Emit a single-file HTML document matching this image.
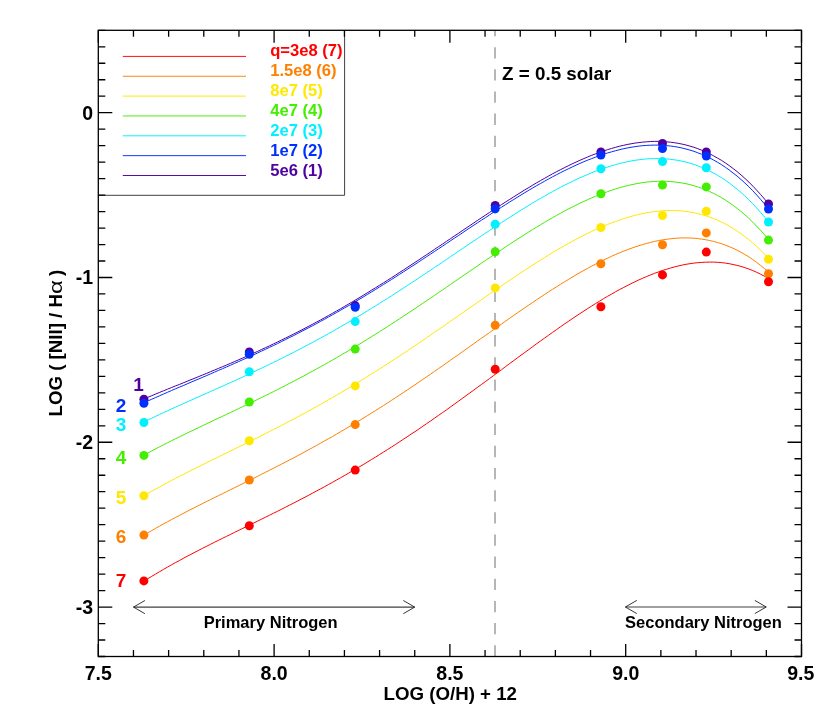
<!DOCTYPE html>
<html><head><meta charset="utf-8"><title>LOG([NII]/Ha) vs LOG(O/H)+12</title>
<style>
html,body{margin:0;padding:0;background:#fff;}
svg{display:block;will-change:transform;}
text{font-family:"Liberation Sans",sans-serif;font-weight:bold;}
</style></head><body>
<svg width="830" height="719" viewBox="0 0 830 719">
<rect x="0" y="0" width="830" height="719" fill="#ffffff"/>
<line x1="495" y1="656.5" x2="495" y2="30.3" stroke="#909090" stroke-width="1.3" stroke-dasharray="11.3 10.85"/>
<path d="M143.9,398.9 L147.8,397.3 L151.8,395.7 L155.7,394.0 L159.6,392.4 L163.5,390.8 L167.5,389.2 L171.4,387.6 L175.3,386.0 L179.3,384.5 L183.2,382.9 L187.1,381.3 L191.0,379.7 L195.0,378.1 L198.9,376.5 L202.8,374.9 L206.8,373.3 L210.7,371.6 L214.6,370.0 L218.5,368.4 L222.5,366.7 L226.4,365.1 L230.3,363.4 L234.3,361.7 L238.2,360.0 L242.1,358.3 L246.0,356.6 L250.0,354.8 L253.9,353.0 L257.8,351.3 L261.7,349.4 L265.7,347.6 L269.6,345.8 L273.5,343.9 L277.5,342.0 L281.4,340.1 L285.3,338.2 L289.2,336.3 L293.2,334.3 L297.1,332.3 L301.0,330.3 L305.0,328.2 L308.9,326.2 L312.8,324.1 L316.7,322.0 L320.7,319.9 L324.6,317.7 L328.5,315.5 L332.5,313.3 L336.4,311.1 L340.3,308.9 L344.2,306.6 L348.2,304.3 L352.1,302.0 L356.0,299.7 L360.0,297.3 L363.9,294.9 L367.8,292.5 L371.7,290.1 L375.7,287.7 L379.6,285.2 L383.5,282.8 L387.5,280.3 L391.4,277.8 L395.3,275.3 L399.2,272.7 L403.2,270.2 L407.1,267.6 L411.0,265.0 L415.0,262.4 L418.9,259.8 L422.8,257.2 L426.7,254.6 L430.7,252.0 L434.6,249.3 L438.5,246.7 L442.5,244.1 L446.4,241.4 L450.3,238.8 L454.2,236.1 L458.2,233.5 L462.1,230.8 L466.0,228.2 L469.9,225.5 L473.9,222.9 L477.8,220.2 L481.7,217.6 L485.7,215.0 L489.6,212.4 L493.5,209.8 L497.4,207.3 L501.4,204.7 L505.3,202.2 L509.2,199.7 L513.2,197.2 L517.1,194.7 L521.0,192.3 L524.9,189.8 L528.9,187.5 L532.8,185.1 L536.7,182.8 L540.7,180.5 L544.6,178.3 L548.5,176.1 L552.4,173.9 L556.4,171.8 L560.3,169.8 L564.2,167.8 L568.2,165.8 L572.1,163.9 L576.0,162.1 L579.9,160.3 L583.9,158.6 L587.8,156.9 L591.7,155.3 L595.7,153.8 L599.6,152.4 L603.5,151.0 L607.4,149.7 L611.4,148.5 L615.3,147.4 L619.2,146.3 L623.2,145.4 L627.1,144.5 L631.0,143.8 L634.9,143.1 L638.9,142.6 L642.8,142.1 L646.7,141.8 L650.7,141.5 L654.6,141.4 L658.5,141.4 L662.4,141.5 L666.4,141.8 L670.3,142.2 L674.2,142.7 L678.1,143.3 L682.1,144.1 L686.0,145.0 L689.9,146.1 L693.9,147.3 L697.8,148.7 L701.7,150.2 L705.6,151.9 L709.6,153.7 L713.5,155.8 L717.4,158.0 L721.4,160.3 L725.3,162.9 L729.2,165.6 L733.1,168.5 L737.1,171.6 L741.0,174.9 L744.9,178.4 L748.9,182.1 L752.8,186.1 L756.7,190.2 L760.6,194.5 L764.6,199.1 L768.5,203.9" fill="none" stroke="#5000a0" stroke-width="1"/>
<path d="M143.9,402.8 L147.8,401.0 L151.8,399.2 L155.7,397.5 L159.6,395.8 L163.5,394.0 L167.5,392.3 L171.4,390.6 L175.3,388.9 L179.3,387.2 L183.2,385.6 L187.1,383.9 L191.0,382.2 L195.0,380.5 L198.9,378.9 L202.8,377.2 L206.8,375.5 L210.7,373.8 L214.6,372.1 L218.5,370.4 L222.5,368.7 L226.4,367.0 L230.3,365.3 L234.3,363.5 L238.2,361.8 L242.1,360.0 L246.0,358.3 L250.0,356.5 L253.9,354.7 L257.8,352.9 L261.7,351.0 L265.7,349.2 L269.6,347.3 L273.5,345.5 L277.5,343.6 L281.4,341.6 L285.3,339.7 L289.2,337.7 L293.2,335.8 L297.1,333.8 L301.0,331.7 L305.0,329.7 L308.9,327.6 L312.8,325.6 L316.7,323.5 L320.7,321.3 L324.6,319.2 L328.5,317.0 L332.5,314.8 L336.4,312.6 L340.3,310.4 L344.2,308.1 L348.2,305.9 L352.1,303.6 L356.0,301.2 L360.0,298.9 L363.9,296.6 L367.8,294.2 L371.7,291.8 L375.7,289.4 L379.6,286.9 L383.5,284.5 L387.5,282.0 L391.4,279.6 L395.3,277.1 L399.2,274.5 L403.2,272.0 L407.1,269.5 L411.0,266.9 L415.0,264.4 L418.9,261.8 L422.8,259.2 L426.7,256.6 L430.7,254.0 L434.6,251.4 L438.5,248.8 L442.5,246.2 L446.4,243.6 L450.3,240.9 L454.2,238.3 L458.2,235.7 L462.1,233.1 L466.0,230.4 L469.9,227.8 L473.9,225.2 L477.8,222.6 L481.7,220.0 L485.7,217.5 L489.6,214.9 L493.5,212.3 L497.4,209.8 L501.4,207.3 L505.3,204.8 L509.2,202.3 L513.2,199.8 L517.1,197.4 L521.0,195.0 L524.9,192.6 L528.9,190.2 L532.8,187.9 L536.7,185.6 L540.7,183.4 L544.6,181.2 L548.5,179.0 L552.4,176.9 L556.4,174.8 L560.3,172.8 L564.2,170.8 L568.2,168.9 L572.1,167.0 L576.0,165.2 L579.9,163.4 L583.9,161.7 L587.8,160.1 L591.7,158.6 L595.7,157.1 L599.6,155.6 L603.5,154.3 L607.4,153.0 L611.4,151.9 L615.3,150.8 L619.2,149.8 L623.2,148.8 L627.1,148.0 L631.0,147.3 L634.9,146.7 L638.9,146.1 L642.8,145.7 L646.7,145.4 L650.7,145.2 L654.6,145.1 L658.5,145.1 L662.4,145.3 L666.4,145.6 L670.3,146.0 L674.2,146.5 L678.1,147.2 L682.1,148.0 L686.0,149.0 L689.9,150.1 L693.9,151.3 L697.8,152.8 L701.7,154.3 L705.6,156.0 L709.6,157.9 L713.5,160.0 L717.4,162.2 L721.4,164.6 L725.3,167.2 L729.2,170.0 L733.1,173.0 L737.1,176.1 L741.0,179.5 L744.9,183.0 L748.9,186.8 L752.8,190.8 L756.7,195.0 L760.6,199.4 L764.6,204.0 L768.5,208.8" fill="none" stroke="#0030ff" stroke-width="1"/>
<path d="M143.9,422.0 L147.8,420.1 L151.8,418.2 L155.7,416.3 L159.6,414.5 L163.5,412.6 L167.5,410.8 L171.4,409.0 L175.3,407.2 L179.3,405.5 L183.2,403.7 L187.1,401.9 L191.0,400.2 L195.0,398.4 L198.9,396.7 L202.8,394.9 L206.8,393.2 L210.7,391.4 L214.6,389.7 L218.5,387.9 L222.5,386.2 L226.4,384.4 L230.3,382.6 L234.3,380.9 L238.2,379.1 L242.1,377.3 L246.0,375.4 L250.0,373.6 L253.9,371.8 L257.8,369.9 L261.7,368.1 L265.7,366.2 L269.6,364.3 L273.5,362.4 L277.5,360.5 L281.4,358.5 L285.3,356.5 L289.2,354.6 L293.2,352.6 L297.1,350.5 L301.0,348.5 L305.0,346.4 L308.9,344.4 L312.8,342.3 L316.7,340.1 L320.7,338.0 L324.6,335.8 L328.5,333.6 L332.5,331.4 L336.4,329.2 L340.3,326.9 L344.2,324.7 L348.2,322.4 L352.1,320.1 L356.0,317.7 L360.0,315.4 L363.9,313.0 L367.8,310.6 L371.7,308.2 L375.7,305.8 L379.6,303.3 L383.5,300.8 L387.5,298.4 L391.4,295.9 L395.3,293.3 L399.2,290.8 L403.2,288.3 L407.1,285.7 L411.0,283.1 L415.0,280.5 L418.9,277.9 L422.8,275.3 L426.7,272.7 L430.7,270.1 L434.6,267.4 L438.5,264.8 L442.5,262.1 L446.4,259.5 L450.3,256.8 L454.2,254.2 L458.2,251.5 L462.1,248.9 L466.0,246.2 L469.9,243.5 L473.9,240.9 L477.8,238.3 L481.7,235.6 L485.7,233.0 L489.6,230.4 L493.5,227.8 L497.4,225.2 L501.4,222.7 L505.3,220.1 L509.2,217.6 L513.2,215.1 L517.1,212.6 L521.0,210.1 L524.9,207.7 L528.9,205.3 L532.8,202.9 L536.7,200.6 L540.7,198.3 L544.6,196.1 L548.5,193.8 L552.4,191.7 L556.4,189.5 L560.3,187.4 L564.2,185.4 L568.2,183.4 L572.1,181.5 L576.0,179.6 L579.9,177.8 L583.9,176.1 L587.8,174.4 L591.7,172.8 L595.7,171.2 L599.6,169.8 L603.5,168.4 L607.4,167.1 L611.4,165.8 L615.3,164.7 L619.2,163.6 L623.2,162.7 L627.1,161.8 L631.0,161.0 L634.9,160.3 L638.9,159.8 L642.8,159.3 L646.7,158.9 L650.7,158.7 L654.6,158.6 L658.5,158.6 L662.4,158.7 L666.4,158.9 L670.3,159.3 L674.2,159.8 L678.1,160.4 L682.1,161.2 L686.0,162.1 L689.9,163.2 L693.9,164.4 L697.8,165.8 L701.7,167.4 L705.6,169.1 L709.6,171.0 L713.5,173.0 L717.4,175.2 L721.4,177.6 L725.3,180.2 L729.2,183.0 L733.1,186.0 L737.1,189.1 L741.0,192.5 L744.9,196.0 L748.9,199.8 L752.8,203.8 L756.7,208.0 L760.6,212.5 L764.6,217.1 L768.5,222.0" fill="none" stroke="#00f0ff" stroke-width="1"/>
<path d="M143.9,455.1 L147.8,453.0 L151.8,450.9 L155.7,448.8 L159.6,446.8 L163.5,444.8 L167.5,442.8 L171.4,440.8 L175.3,438.9 L179.3,436.9 L183.2,435.0 L187.1,433.1 L191.0,431.2 L195.0,429.3 L198.9,427.5 L202.8,425.6 L206.8,423.7 L210.7,421.9 L214.6,420.0 L218.5,418.1 L222.5,416.3 L226.4,414.4 L230.3,412.6 L234.3,410.7 L238.2,408.8 L242.1,406.9 L246.0,405.1 L250.0,403.2 L253.9,401.3 L257.8,399.3 L261.7,397.4 L265.7,395.5 L269.6,393.5 L273.5,391.6 L277.5,389.6 L281.4,387.6 L285.3,385.6 L289.2,383.5 L293.2,381.5 L297.1,379.4 L301.0,377.4 L305.0,375.3 L308.9,373.1 L312.8,371.0 L316.7,368.8 L320.7,366.7 L324.6,364.5 L328.5,362.3 L332.5,360.0 L336.4,357.8 L340.3,355.5 L344.2,353.2 L348.2,350.9 L352.1,348.5 L356.0,346.2 L360.0,343.8 L363.9,341.4 L367.8,339.0 L371.7,336.5 L375.7,334.1 L379.6,331.6 L383.5,329.1 L387.5,326.6 L391.4,324.1 L395.3,321.5 L399.2,319.0 L403.2,316.4 L407.1,313.8 L411.0,311.2 L415.0,308.6 L418.9,306.0 L422.8,303.3 L426.7,300.7 L430.7,298.0 L434.6,295.3 L438.5,292.6 L442.5,290.0 L446.4,287.3 L450.3,284.6 L454.2,281.9 L458.2,279.2 L462.1,276.5 L466.0,273.8 L469.9,271.1 L473.9,268.4 L477.8,265.7 L481.7,263.0 L485.7,260.3 L489.6,257.7 L493.5,255.0 L497.4,252.4 L501.4,249.8 L505.3,247.1 L509.2,244.5 L513.2,242.0 L517.1,239.4 L521.0,236.9 L524.9,234.4 L528.9,231.9 L532.8,229.5 L536.7,227.1 L540.7,224.7 L544.6,222.3 L548.5,220.0 L552.4,217.8 L556.4,215.5 L560.3,213.4 L564.2,211.2 L568.2,209.1 L572.1,207.1 L576.0,205.1 L579.9,203.2 L583.9,201.4 L587.8,199.6 L591.7,197.9 L595.7,196.2 L599.6,194.6 L603.5,193.1 L607.4,191.7 L611.4,190.3 L615.3,189.0 L619.2,187.8 L623.2,186.7 L627.1,185.7 L631.0,184.8 L634.9,184.0 L638.9,183.3 L642.8,182.6 L646.7,182.1 L650.7,181.7 L654.6,181.5 L658.5,181.3 L662.4,181.3 L666.4,181.3 L670.3,181.5 L674.2,181.9 L678.1,182.4 L682.1,183.0 L686.0,183.7 L689.9,184.6 L693.9,185.7 L697.8,186.9 L701.7,188.3 L705.6,189.8 L709.6,191.5 L713.5,193.3 L717.4,195.4 L721.4,197.6 L725.3,200.0 L729.2,202.6 L733.1,205.3 L737.1,208.3 L741.0,211.5 L744.9,214.8 L748.9,218.4 L752.8,222.2 L756.7,226.2 L760.6,230.4 L764.6,234.9 L768.5,239.6" fill="none" stroke="#44ee00" stroke-width="1"/>
<path d="M143.9,495.6 L147.8,493.4 L151.8,491.2 L155.7,489.0 L159.6,486.9 L163.5,484.7 L167.5,482.6 L171.4,480.6 L175.3,478.5 L179.3,476.5 L183.2,474.5 L187.1,472.5 L191.0,470.5 L195.0,468.5 L198.9,466.6 L202.8,464.6 L206.8,462.7 L210.7,460.7 L214.6,458.8 L218.5,456.9 L222.5,454.9 L226.4,453.0 L230.3,451.1 L234.3,449.2 L238.2,447.2 L242.1,445.3 L246.0,443.4 L250.0,441.4 L253.9,439.4 L257.8,437.5 L261.7,435.5 L265.7,433.5 L269.6,431.5 L273.5,429.5 L277.5,427.5 L281.4,425.5 L285.3,423.4 L289.2,421.4 L293.2,419.3 L297.1,417.2 L301.0,415.1 L305.0,413.0 L308.9,410.8 L312.8,408.6 L316.7,406.5 L320.7,404.3 L324.6,402.0 L328.5,399.8 L332.5,397.5 L336.4,395.3 L340.3,393.0 L344.2,390.6 L348.2,388.3 L352.1,386.0 L356.0,383.6 L360.0,381.2 L363.9,378.8 L367.8,376.3 L371.7,373.9 L375.7,371.4 L379.6,368.9 L383.5,366.4 L387.5,363.9 L391.4,361.3 L395.3,358.7 L399.2,356.2 L403.2,353.6 L407.1,351.0 L411.0,348.3 L415.0,345.7 L418.9,343.0 L422.8,340.4 L426.7,337.7 L430.7,335.0 L434.6,332.3 L438.5,329.6 L442.5,326.9 L446.4,324.1 L450.3,321.4 L454.2,318.7 L458.2,315.9 L462.1,313.2 L466.0,310.4 L469.9,307.7 L473.9,305.0 L477.8,302.2 L481.7,299.5 L485.7,296.8 L489.6,294.0 L493.5,291.3 L497.4,288.6 L501.4,285.9 L505.3,283.2 L509.2,280.6 L513.2,277.9 L517.1,275.3 L521.0,272.7 L524.9,270.1 L528.9,267.5 L532.8,265.0 L536.7,262.5 L540.7,260.0 L544.6,257.5 L548.5,255.1 L552.4,252.7 L556.4,250.4 L560.3,248.1 L564.2,245.8 L568.2,243.6 L572.1,241.5 L576.0,239.3 L579.9,237.3 L583.9,235.3 L587.8,233.3 L591.7,231.4 L595.7,229.6 L599.6,227.8 L603.5,226.1 L607.4,224.5 L611.4,223.0 L615.3,221.5 L619.2,220.1 L623.2,218.8 L627.1,217.6 L631.0,216.4 L634.9,215.4 L638.9,214.4 L642.8,213.6 L646.7,212.8 L650.7,212.1 L654.6,211.6 L658.5,211.2 L662.4,210.8 L666.4,210.6 L670.3,210.5 L674.2,210.6 L678.1,210.7 L682.1,211.0 L686.0,211.5 L689.9,212.0 L693.9,212.7 L697.8,213.6 L701.7,214.6 L705.6,215.7 L709.6,217.1 L713.5,218.5 L717.4,220.2 L721.4,222.0 L725.3,224.0 L729.2,226.1 L733.1,228.4 L737.1,231.0 L741.0,233.7 L744.9,236.6 L748.9,239.7 L752.8,243.0 L756.7,246.5 L760.6,250.2 L764.6,254.1 L768.5,258.3" fill="none" stroke="#ffe800" stroke-width="1"/>
<path d="M143.9,535.1 L147.8,532.8 L151.8,530.5 L155.7,528.3 L159.6,526.1 L163.5,523.9 L167.5,521.8 L171.4,519.6 L175.3,517.5 L179.3,515.5 L183.2,513.4 L187.1,511.4 L191.0,509.4 L195.0,507.4 L198.9,505.4 L202.8,503.4 L206.8,501.4 L210.7,499.5 L214.6,497.5 L218.5,495.6 L222.5,493.7 L226.4,491.7 L230.3,489.8 L234.3,487.8 L238.2,485.9 L242.1,484.0 L246.0,482.0 L250.0,480.1 L253.9,478.1 L257.8,476.2 L261.7,474.2 L265.7,472.2 L269.6,470.2 L273.5,468.2 L277.5,466.2 L281.4,464.2 L285.3,462.2 L289.2,460.1 L293.2,458.1 L297.1,456.0 L301.0,453.9 L305.0,451.8 L308.9,449.6 L312.8,447.5 L316.7,445.3 L320.7,443.1 L324.6,440.9 L328.5,438.7 L332.5,436.5 L336.4,434.2 L340.3,431.9 L344.2,429.6 L348.2,427.3 L352.1,425.0 L356.0,422.6 L360.0,420.2 L363.9,417.8 L367.8,415.4 L371.7,412.9 L375.7,410.5 L379.6,408.0 L383.5,405.5 L387.5,403.0 L391.4,400.4 L395.3,397.9 L399.2,395.3 L403.2,392.7 L407.1,390.1 L411.0,387.4 L415.0,384.8 L418.9,382.1 L422.8,379.4 L426.7,376.8 L430.7,374.0 L434.6,371.3 L438.5,368.6 L442.5,365.9 L446.4,363.1 L450.3,360.3 L454.2,357.6 L458.2,354.8 L462.1,352.0 L466.0,349.2 L469.9,346.4 L473.9,343.6 L477.8,340.8 L481.7,338.0 L485.7,335.3 L489.6,332.5 L493.5,329.7 L497.4,326.9 L501.4,324.1 L505.3,321.3 L509.2,318.6 L513.2,315.8 L517.1,313.1 L521.0,310.4 L524.9,307.7 L528.9,305.0 L532.8,302.3 L536.7,299.7 L540.7,297.1 L544.6,294.5 L548.5,291.9 L552.4,289.4 L556.4,286.9 L560.3,284.4 L564.2,282.0 L568.2,279.6 L572.1,277.2 L576.0,274.9 L579.9,272.6 L583.9,270.4 L587.8,268.2 L591.7,266.1 L595.7,264.1 L599.6,262.1 L603.5,260.1 L607.4,258.2 L611.4,256.4 L615.3,254.6 L619.2,253.0 L623.2,251.3 L627.1,249.8 L631.0,248.4 L634.9,247.0 L638.9,245.7 L642.8,244.5 L646.7,243.4 L650.7,242.4 L654.6,241.4 L658.5,240.6 L662.4,239.9 L666.4,239.3 L670.3,238.8 L674.2,238.4 L678.1,238.1 L682.1,237.9 L686.0,237.9 L689.9,238.0 L693.9,238.2 L697.8,238.6 L701.7,239.1 L705.6,239.7 L709.6,240.5 L713.5,241.4 L717.4,242.5 L721.4,243.7 L725.3,245.1 L729.2,246.6 L733.1,248.3 L737.1,250.2 L741.0,252.3 L744.9,254.5 L748.9,256.9 L752.8,259.6 L756.7,262.4 L760.6,265.4 L764.6,268.6 L768.5,271.9" fill="none" stroke="#ff8000" stroke-width="1"/>
<path d="M143.9,581.2 L147.8,578.7 L151.8,576.3 L155.7,574.0 L159.6,571.7 L163.5,569.4 L167.5,567.1 L171.4,564.9 L175.3,562.7 L179.3,560.6 L183.2,558.4 L187.1,556.3 L191.0,554.3 L195.0,552.2 L198.9,550.2 L202.8,548.2 L206.8,546.2 L210.7,544.2 L214.6,542.2 L218.5,540.3 L222.5,538.3 L226.4,536.4 L230.3,534.5 L234.3,532.5 L238.2,530.6 L242.1,528.7 L246.0,526.8 L250.0,524.8 L253.9,522.9 L257.8,521.0 L261.7,519.1 L265.7,517.1 L269.6,515.2 L273.5,513.2 L277.5,511.3 L281.4,509.3 L285.3,507.3 L289.2,505.3 L293.2,503.3 L297.1,501.3 L301.0,499.2 L305.0,497.2 L308.9,495.1 L312.8,493.0 L316.7,490.9 L320.7,488.8 L324.6,486.7 L328.5,484.5 L332.5,482.3 L336.4,480.1 L340.3,477.9 L344.2,475.7 L348.2,473.4 L352.1,471.1 L356.0,468.8 L360.0,466.5 L363.9,464.2 L367.8,461.8 L371.7,459.4 L375.7,457.0 L379.6,454.5 L383.5,452.1 L387.5,449.6 L391.4,447.1 L395.3,444.6 L399.2,442.0 L403.2,439.4 L407.1,436.9 L411.0,434.2 L415.0,431.6 L418.9,429.0 L422.8,426.3 L426.7,423.6 L430.7,420.9 L434.6,418.1 L438.5,415.4 L442.5,412.6 L446.4,409.9 L450.3,407.1 L454.2,404.3 L458.2,401.4 L462.1,398.6 L466.0,395.7 L469.9,392.9 L473.9,390.0 L477.8,387.1 L481.7,384.3 L485.7,381.4 L489.6,378.5 L493.5,375.6 L497.4,372.7 L501.4,369.8 L505.3,366.8 L509.2,363.9 L513.2,361.0 L517.1,358.1 L521.0,355.2 L524.9,352.4 L528.9,349.5 L532.8,346.6 L536.7,343.7 L540.7,340.9 L544.6,338.1 L548.5,335.3 L552.4,332.5 L556.4,329.7 L560.3,326.9 L564.2,324.2 L568.2,321.5 L572.1,318.8 L576.0,316.2 L579.9,313.6 L583.9,311.0 L587.8,308.5 L591.7,306.0 L595.7,303.5 L599.6,301.1 L603.5,298.7 L607.4,296.4 L611.4,294.2 L615.3,291.9 L619.2,289.8 L623.2,287.7 L627.1,285.7 L631.0,283.7 L634.9,281.8 L638.9,279.9 L642.8,278.2 L646.7,276.5 L650.7,274.9 L654.6,273.3 L658.5,271.9 L662.4,270.5 L666.4,269.3 L670.3,268.1 L674.2,267.0 L678.1,266.0 L682.1,265.1 L686.0,264.3 L689.9,263.7 L693.9,263.1 L697.8,262.7 L701.7,262.4 L705.6,262.2 L709.6,262.1 L713.5,262.1 L717.4,262.3 L721.4,262.6 L725.3,263.1 L729.2,263.7 L733.1,264.5 L737.1,265.4 L741.0,266.4 L744.9,267.7 L748.9,269.0 L752.8,270.6 L756.7,272.3 L760.6,274.2 L764.6,276.3 L768.5,278.5" fill="none" stroke="#ff0000" stroke-width="1"/>
<circle cx="143.9" cy="399.3" r="4.5" fill="#5000a0"/>
<circle cx="249.3" cy="351.9" r="4.5" fill="#5000a0"/>
<circle cx="355.2" cy="305.6" r="4.5" fill="#5000a0"/>
<circle cx="495.2" cy="205.4" r="4.5" fill="#5000a0"/>
<circle cx="600.9" cy="151.9" r="4.5" fill="#5000a0"/>
<circle cx="662.5" cy="143.5" r="4.5" fill="#5000a0"/>
<circle cx="706.3" cy="151.9" r="4.5" fill="#5000a0"/>
<circle cx="768.5" cy="204.0" r="4.5" fill="#5000a0"/>
<circle cx="143.9" cy="403.3" r="4.5" fill="#0030ff"/>
<circle cx="249.3" cy="354.2" r="4.5" fill="#0030ff"/>
<circle cx="355.2" cy="307.2" r="4.5" fill="#0030ff"/>
<circle cx="495.2" cy="208.7" r="4.5" fill="#0030ff"/>
<circle cx="600.9" cy="155.1" r="4.5" fill="#0030ff"/>
<circle cx="662.5" cy="148.5" r="4.5" fill="#0030ff"/>
<circle cx="706.3" cy="156.0" r="4.5" fill="#0030ff"/>
<circle cx="768.5" cy="209.0" r="4.5" fill="#0030ff"/>
<circle cx="143.9" cy="422.5" r="4.5" fill="#00f0ff"/>
<circle cx="249.3" cy="371.7" r="4.5" fill="#00f0ff"/>
<circle cx="355.2" cy="321.6" r="4.5" fill="#00f0ff"/>
<circle cx="495.2" cy="224.2" r="4.5" fill="#00f0ff"/>
<circle cx="600.9" cy="168.8" r="4.5" fill="#00f0ff"/>
<circle cx="662.5" cy="161.6" r="4.5" fill="#00f0ff"/>
<circle cx="706.3" cy="167.8" r="4.5" fill="#00f0ff"/>
<circle cx="768.5" cy="222.0" r="4.5" fill="#00f0ff"/>
<circle cx="143.9" cy="455.4" r="4.5" fill="#44ee00"/>
<circle cx="249.3" cy="402.0" r="4.5" fill="#44ee00"/>
<circle cx="355.2" cy="349.1" r="4.5" fill="#44ee00"/>
<circle cx="495.2" cy="251.7" r="4.5" fill="#44ee00"/>
<circle cx="600.9" cy="193.8" r="4.5" fill="#44ee00"/>
<circle cx="662.5" cy="185.1" r="4.5" fill="#44ee00"/>
<circle cx="706.3" cy="186.9" r="4.5" fill="#44ee00"/>
<circle cx="768.5" cy="240.1" r="4.5" fill="#44ee00"/>
<circle cx="143.9" cy="495.8" r="4.5" fill="#ffe800"/>
<circle cx="249.3" cy="440.8" r="4.5" fill="#ffe800"/>
<circle cx="355.2" cy="385.9" r="4.5" fill="#ffe800"/>
<circle cx="495.2" cy="287.9" r="4.5" fill="#ffe800"/>
<circle cx="600.9" cy="227.5" r="4.5" fill="#ffe800"/>
<circle cx="662.5" cy="215.5" r="4.5" fill="#ffe800"/>
<circle cx="706.3" cy="211.2" r="4.5" fill="#ffe800"/>
<circle cx="768.5" cy="259.3" r="4.5" fill="#ffe800"/>
<circle cx="143.9" cy="535.1" r="4.5" fill="#ff8000"/>
<circle cx="249.3" cy="480.0" r="4.5" fill="#ff8000"/>
<circle cx="355.2" cy="424.6" r="4.5" fill="#ff8000"/>
<circle cx="495.2" cy="325.2" r="4.5" fill="#ff8000"/>
<circle cx="600.9" cy="263.7" r="4.5" fill="#ff8000"/>
<circle cx="662.5" cy="244.8" r="4.5" fill="#ff8000"/>
<circle cx="706.3" cy="232.9" r="4.5" fill="#ff8000"/>
<circle cx="768.5" cy="273.8" r="4.5" fill="#ff8000"/>
<circle cx="143.9" cy="580.9" r="4.5" fill="#ff0000"/>
<circle cx="249.3" cy="525.8" r="4.5" fill="#ff0000"/>
<circle cx="355.2" cy="470.1" r="4.5" fill="#ff0000"/>
<circle cx="495.2" cy="369.3" r="4.5" fill="#ff0000"/>
<circle cx="600.9" cy="306.7" r="4.5" fill="#ff0000"/>
<circle cx="662.5" cy="274.9" r="4.5" fill="#ff0000"/>
<circle cx="706.3" cy="252.1" r="4.5" fill="#ff0000"/>
<circle cx="768.5" cy="281.7" r="4.5" fill="#ff0000"/>
<path d="M98.3,195.3 H344.6 V30.3" fill="none" stroke="#404040" stroke-width="1"/>
<line x1="122.8" y1="56.40" x2="246" y2="56.40" stroke="#ff0000" stroke-width="0.95"/>
<text x="270.2" y="56.2" font-size="16.6" fill="#ff0000">q=3e8 (7)</text>
<line x1="122.8" y1="76.25" x2="246" y2="76.25" stroke="#ff8000" stroke-width="0.95"/>
<text x="270.2" y="76.2" font-size="16.6" fill="#ff8000">1.5e8 (6)</text>
<line x1="122.8" y1="96.10" x2="246" y2="96.10" stroke="#ffe800" stroke-width="0.95"/>
<text x="270.2" y="96.2" font-size="16.6" fill="#ffe800">8e7 (5)</text>
<line x1="122.8" y1="115.95" x2="246" y2="115.95" stroke="#44ee00" stroke-width="0.95"/>
<text x="270.2" y="116.2" font-size="16.6" fill="#44ee00">4e7 (4)</text>
<line x1="122.8" y1="135.80" x2="246" y2="135.80" stroke="#00f0ff" stroke-width="0.95"/>
<text x="270.2" y="136.2" font-size="16.6" fill="#00f0ff">2e7 (3)</text>
<line x1="122.8" y1="155.65" x2="246" y2="155.65" stroke="#0030ff" stroke-width="0.95"/>
<text x="270.2" y="156.2" font-size="16.6" fill="#0030ff">1e7 (2)</text>
<line x1="122.8" y1="175.50" x2="246" y2="175.50" stroke="#5000a0" stroke-width="0.95"/>
<text x="270.2" y="176.2" font-size="16.6" fill="#5000a0">5e6 (1)</text>
<text x="133.2" y="391.09999999999997" font-size="19" fill="#5000a0">1</text>
<text x="115.7" y="411.9" font-size="19" fill="#0030ff">2</text>
<text x="115.7" y="431.4" font-size="19" fill="#00f0ff">3</text>
<text x="115.7" y="463.59999999999997" font-size="19" fill="#44ee00">4</text>
<text x="115.7" y="503.5" font-size="19" fill="#ffe800">5</text>
<text x="115.7" y="543.0" font-size="19" fill="#ff8000">6</text>
<text x="115.7" y="587.4" font-size="19" fill="#ff0000">7</text>
<rect x="98.3" y="30.3" width="703.2" height="626.2" fill="none" stroke="#000" stroke-width="1.3"/>
<path d="M98.30,656.5 v-12.5 M98.30,30.3 v12.5 M133.46,656.5 v-6.5 M133.46,30.3 v6.5 M168.62,656.5 v-6.5 M168.62,30.3 v6.5 M203.78,656.5 v-6.5 M203.78,30.3 v6.5 M238.94,656.5 v-6.5 M238.94,30.3 v6.5 M274.10,656.5 v-12.5 M274.10,30.3 v12.5 M309.26,656.5 v-6.5 M309.26,30.3 v6.5 M344.42,656.5 v-6.5 M344.42,30.3 v6.5 M379.58,656.5 v-6.5 M379.58,30.3 v6.5 M414.74,656.5 v-6.5 M414.74,30.3 v6.5 M449.90,656.5 v-12.5 M449.90,30.3 v12.5 M485.06,656.5 v-6.5 M485.06,30.3 v6.5 M520.22,656.5 v-6.5 M520.22,30.3 v6.5 M555.38,656.5 v-6.5 M555.38,30.3 v6.5 M590.54,656.5 v-6.5 M590.54,30.3 v6.5 M625.70,656.5 v-12.5 M625.70,30.3 v12.5 M660.86,656.5 v-6.5 M660.86,30.3 v6.5 M696.02,656.5 v-6.5 M696.02,30.3 v6.5 M731.18,656.5 v-6.5 M731.18,30.3 v6.5 M766.34,656.5 v-6.5 M766.34,30.3 v6.5 M801.50,656.5 v-12.5 M801.50,30.3 v12.5 M98.3,30.30 h7 M801.5,30.30 h-7 M98.3,46.78 h7 M801.5,46.78 h-7 M98.3,63.26 h7 M801.5,63.26 h-7 M98.3,79.74 h7 M801.5,79.74 h-7 M98.3,96.22 h7 M801.5,96.22 h-7 M98.3,112.69 h14 M801.5,112.69 h-14 M98.3,129.17 h7 M801.5,129.17 h-7 M98.3,145.65 h7 M801.5,145.65 h-7 M98.3,162.13 h7 M801.5,162.13 h-7 M98.3,178.61 h7 M801.5,178.61 h-7 M98.3,195.09 h7 M801.5,195.09 h-7 M98.3,211.57 h7 M801.5,211.57 h-7 M98.3,228.05 h7 M801.5,228.05 h-7 M98.3,244.53 h7 M801.5,244.53 h-7 M98.3,261.01 h7 M801.5,261.01 h-7 M98.3,277.48 h14 M801.5,277.48 h-14 M98.3,293.96 h7 M801.5,293.96 h-7 M98.3,310.44 h7 M801.5,310.44 h-7 M98.3,326.92 h7 M801.5,326.92 h-7 M98.3,343.40 h7 M801.5,343.40 h-7 M98.3,359.88 h7 M801.5,359.88 h-7 M98.3,376.36 h7 M801.5,376.36 h-7 M98.3,392.84 h7 M801.5,392.84 h-7 M98.3,409.32 h7 M801.5,409.32 h-7 M98.3,425.79 h7 M801.5,425.79 h-7 M98.3,442.27 h14 M801.5,442.27 h-14 M98.3,458.75 h7 M801.5,458.75 h-7 M98.3,475.23 h7 M801.5,475.23 h-7 M98.3,491.71 h7 M801.5,491.71 h-7 M98.3,508.19 h7 M801.5,508.19 h-7 M98.3,524.67 h7 M801.5,524.67 h-7 M98.3,541.15 h7 M801.5,541.15 h-7 M98.3,557.63 h7 M801.5,557.63 h-7 M98.3,574.11 h7 M801.5,574.11 h-7 M98.3,590.58 h7 M801.5,590.58 h-7 M98.3,607.06 h14 M801.5,607.06 h-14 M98.3,623.54 h7 M801.5,623.54 h-7 M98.3,640.02 h7 M801.5,640.02 h-7 M98.3,656.50 h7 M801.5,656.50 h-7" fill="none" stroke="#000" stroke-width="1.3"/>
<text x="98.3" y="680.4" font-size="19.5" text-anchor="middle" fill="#000">7.5</text>
<text x="274.1" y="680.4" font-size="19.5" text-anchor="middle" fill="#000">8.0</text>
<text x="449.9" y="680.4" font-size="19.5" text-anchor="middle" fill="#000">8.5</text>
<text x="625.7" y="680.4" font-size="19.5" text-anchor="middle" fill="#000">9.0</text>
<text x="800.7" y="680.4" font-size="19.5" text-anchor="middle" fill="#000">9.5</text>
<text x="93.2" y="119.6" font-size="19.5" text-anchor="end" fill="#000">0</text>
<text x="93.2" y="284.4" font-size="19.5" text-anchor="end" fill="#000">-1</text>
<text x="93.2" y="449.2" font-size="19.5" text-anchor="end" fill="#000">-2</text>
<text x="93.2" y="614.0" font-size="19.5" text-anchor="end" fill="#000">-3</text>
<text x="450.3" y="699.8" font-size="18.7" text-anchor="middle" fill="#000">LOG (O/H) + 12</text>
<text transform="translate(61.9,416.5) rotate(-90)" font-size="18.7" fill="#000">LOG ( [NII] / H</text>
<text transform="translate(61.9,416.5) rotate(-90) translate(122.5,0) scale(1.28,1)" font-size="18.7" font-weight="normal" style="font-weight:normal" fill="#000">α</text>
<text transform="translate(61.9,416.5) rotate(-90) translate(140.4,0)" font-size="18.7" fill="#000">)</text>
<text x="502.1" y="79.9" font-size="18.8" fill="#000">Z = 0.5 solar</text>
<text x="203.7" y="628.2" font-size="16.5" fill="#000">Primary Nitrogen</text>
<text x="625.1" y="628.1" font-size="16.5" fill="#000">Secondary Nitrogen</text>
<path d="M133.5,607.1 H414.7" fill="none" stroke="#404040" stroke-width="1.2"/><path d="M144.9,600.5 L133.5,607.1 L144.9,613.7 M403.3,600.5 L414.7,607.1 L403.3,613.7" fill="none" stroke="#202020" stroke-width="0.9"/>
<path d="M625.4,607.0 H766.2" fill="none" stroke="#404040" stroke-width="1.2"/><path d="M636.8,600.4 L625.4,607.0 L636.8,613.6 M754.8000000000001,600.4 L766.2,607.0 L754.8000000000001,613.6" fill="none" stroke="#202020" stroke-width="0.9"/>
</svg></body></html>
